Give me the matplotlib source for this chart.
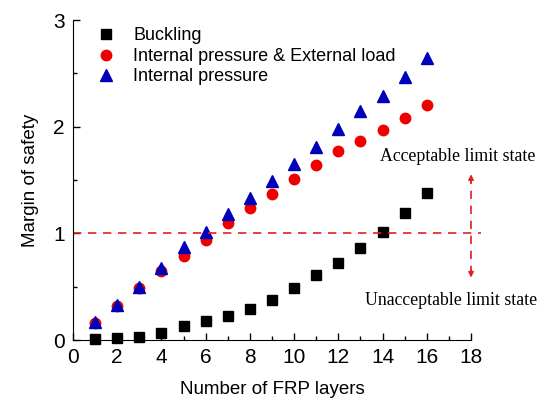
import matplotlib
matplotlib.use("Agg")
import matplotlib.pyplot as plt
from matplotlib.ticker import MultipleLocator

layers = list(range(1, 17))
buckling = [0.01, 0.02, 0.03, 0.07, 0.13, 0.18, 0.23, 0.29, 0.38, 0.49, 0.61, 0.72, 0.86, 1.01, 1.19, 1.38]
combined = [0.16, 0.32, 0.49, 0.65, 0.79, 0.94, 1.10, 1.24, 1.37, 1.51, 1.64, 1.77, 1.87, 1.97, 2.08, 2.20]
internal = [0.17, 0.33, 0.50, 0.68, 0.87, 1.01, 1.18, 1.33, 1.49, 1.65, 1.81, 1.98, 2.15, 2.29, 2.47, 2.64]

plt.rcParams['font.family'] = ['Liberation Sans', 'DejaVu Sans']

fig = plt.figure(figsize=(5.49, 4.01), dpi=100)
ax = fig.add_axes([0.133, 0.152, 0.725, 0.798])

ax.plot(layers, buckling, 's', color='black', ms=6.5, label='Buckling', clip_on=False)
ax.plot(layers, combined, 'o', color='#ee0000', ms=7.5, label='Internal pressure & External load', clip_on=False)
ax.plot(layers, internal, '^', color='#0000bb', ms=8, label='Internal pressure', clip_on=False)

# limit line and arrow
ax.plot([0, 18.45], [1.0, 1.0], '--', color='#e0201e', lw=1.2, dashes=(5, 4), clip_on=False)
ax.plot([18, 18], [0.62, 1.52], '--', color='#e0201e', lw=1.2, dashes=(5, 4), clip_on=False)
ax.annotate('', xy=(18, 1.58), xytext=(18, 1.45),
            arrowprops=dict(arrowstyle='-|>', color='#e0201e', lw=1.0, mutation_scale=8),
            annotation_clip=False)
ax.annotate('', xy=(18, 0.56), xytext=(18, 0.69),
            arrowprops=dict(arrowstyle='-|>', color='#e0201e', lw=1.0, mutation_scale=8),
            annotation_clip=False)
ax.text(17.38, 1.72, 'Acceptable limit state', family='Liberation Serif', fontsize=12.8,
        ha='center', va='center', clip_on=False)
ax.text(17.11, 0.37, 'Unacceptable limit state', family='Liberation Serif', fontsize=12.8,
        ha='center', va='center', clip_on=False)

ax.set_xlim(0, 18)
ax.set_ylim(0, 3)
ax.xaxis.set_major_locator(MultipleLocator(2))
ax.xaxis.set_minor_locator(MultipleLocator(1))
ax.yaxis.set_major_locator(MultipleLocator(1))
ax.yaxis.set_minor_locator(MultipleLocator(0.5))
ax.tick_params(which='both', direction='in', labelsize=15, width=1)
ax.tick_params(which='major', length=5, pad=6)
ax.tick_params(which='minor', length=3)
ax.spines['top'].set_visible(False)
ax.spines['right'].set_visible(False)

ax.set_xlabel('Number of FRP layers', fontsize=13.5, labelpad=10)
ax.set_ylabel('Margin of safety', fontsize=13.5, labelpad=10)

ax.legend(loc='upper left', frameon=False, fontsize=13, handletextpad=0.5,
          labelspacing=0.2, borderaxespad=0.0, bbox_to_anchor=(0.02, 1.0))

fig.savefig('out.png', dpi=100)
